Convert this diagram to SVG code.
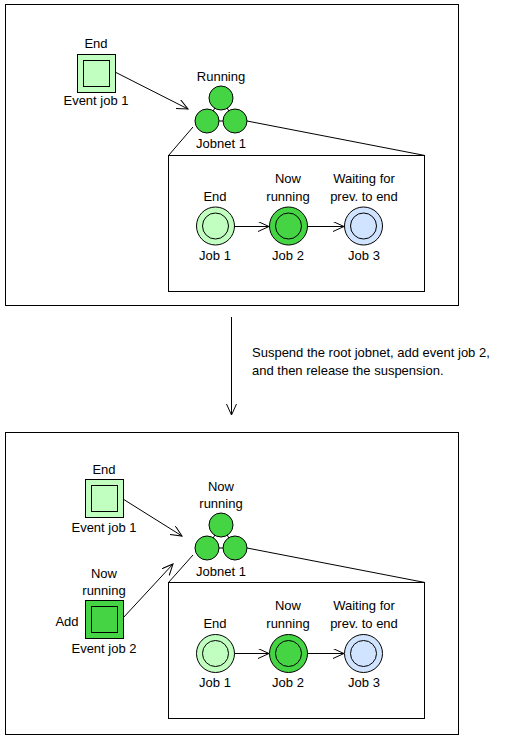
<svg xmlns="http://www.w3.org/2000/svg" width="517" height="738" viewBox="0 0 517 738">
<defs>
<marker id="ah" markerUnits="userSpaceOnUse" markerWidth="14" markerHeight="12" refX="11" refY="5" orient="auto">
<path d="M0,0 L11,5 L0,10" fill="none" stroke="#000" stroke-width="1"/>
</marker>
</defs>
<style>
text{font-family:"Liberation Sans",Arial,sans-serif;font-size:13px;fill:#000;text-anchor:middle}
.frame{fill:#fff;stroke:#000;stroke-width:1}
.ln{stroke:#000;stroke-width:1;fill:none}
.arr{stroke:#000;stroke-width:1;fill:none;marker-end:url(#ah)}
.lg{fill:#c0ffc0;stroke:#000}
.dg{fill:#44d444;stroke:#000}
.lb{fill:#d0e4ff;stroke:#000}
</style>
<rect width="517" height="738" fill="#fff"/>
<rect class="frame" x="5.5" y="4.5" width="453" height="301"/>
<rect class="frame" x="5.5" y="432.5" width="453" height="302"/>

<g id="detail-top">
<rect class="frame" x="168.5" y="155.5" width="256" height="136"/>
</g>
<g id="detail-bottom">
<rect class="frame" x="168.5" y="582.5" width="256" height="136"/>
</g>

<g id="connectors">
<line class="arr" x1="115" y1="72" x2="188" y2="109"/>
<line class="ln" x1="193" y1="127" x2="168.5" y2="155.5"/>
<line class="ln" x1="247" y1="121" x2="425" y2="155.5"/>
<line class="arr" x1="234" y1="226.5" x2="269" y2="226.5"/>
<line class="arr" x1="307" y1="226.5" x2="344" y2="226.5"/>
<line class="arr" x1="231.5" y1="317" x2="231.5" y2="415"/>
<line class="arr" x1="123" y1="499" x2="182" y2="536"/>
<line class="arr" x1="123" y1="618" x2="173" y2="564"/>
<line class="ln" x1="193" y1="555" x2="168.5" y2="582.5"/>
<line class="ln" x1="247" y1="548" x2="425" y2="582.5"/>
<line class="arr" x1="234" y1="653.5" x2="269" y2="653.5"/>
<line class="arr" x1="307" y1="653.5" x2="344" y2="653.5"/>
</g>

<g id="eventjob1-top">
<text x="96" y="48">End</text>
<rect class="lg" x="77.5" y="54.5" width="38" height="38"/>
<rect class="lg" x="83.5" y="60.5" width="26" height="26"/>
<text x="96" y="105">Event job 1</text>
</g>

<g id="jobnet1-top">
<text x="221" y="81">Running</text>
<line class="ln" x1="221" y1="98" x2="207" y2="121"/>
<line class="ln" x1="221" y1="98" x2="235" y2="121"/>
<line class="ln" x1="207" y1="121" x2="235" y2="121"/>
<circle class="dg" cx="221" cy="98" r="12"/>
<circle class="dg" cx="207" cy="121" r="12"/>
<circle class="dg" cx="235" cy="121" r="12"/>
<text x="221" y="148">Jobnet 1</text>
</g>

<g id="job1-top">
<text x="215" y="201">End</text>
<circle class="lg" cx="215.5" cy="226" r="19"/>
<circle class="lg" cx="215.5" cy="226" r="13"/>
<text x="215" y="260">Job 1</text>
</g>
<g id="job2-top">
<text x="288" y="183">Now</text>
<text x="288" y="201">running</text>
<circle class="dg" cx="288.5" cy="226" r="19"/>
<circle class="dg" cx="288.5" cy="226" r="13"/>
<text x="288" y="260">Job 2</text>
</g>
<g id="job3-top">
<text x="364" y="183">Waiting for</text>
<text x="364" y="201">prev. to end</text>
<circle class="lb" cx="363.5" cy="226" r="19"/>
<circle class="lb" cx="363.5" cy="226" r="13"/>
<text x="364" y="260">Job 3</text>
</g>

<g id="note">
<text x="252" y="357" style="text-anchor:start">Suspend the root jobnet, add event job 2,</text>
<text x="252" y="375" style="text-anchor:start">and then release the suspension.</text>
</g>

<g id="eventjob1-bottom">
<text x="104" y="474">End</text>
<rect class="lg" x="85.5" y="479.5" width="38" height="38"/>
<rect class="lg" x="91.5" y="485.5" width="26" height="26"/>
<text x="104" y="532">Event job 1</text>
</g>

<g id="eventjob2-bottom">
<text x="104" y="578">Now</text>
<text x="104" y="595">running</text>
<text x="67" y="626">Add</text>
<rect class="dg" x="85.5" y="600.5" width="38" height="38"/>
<rect class="dg" x="91.5" y="606.5" width="26" height="26"/>
<text x="104" y="653">Event job 2</text>
</g>

<g id="jobnet1-bottom">
<text x="221" y="491">Now</text>
<text x="221" y="508">running</text>
<line class="ln" x1="221" y1="525" x2="207" y2="548"/>
<line class="ln" x1="221" y1="525" x2="235" y2="548"/>
<line class="ln" x1="207" y1="548" x2="235" y2="548"/>
<circle class="dg" cx="221" cy="525" r="12"/>
<circle class="dg" cx="207" cy="548" r="12"/>
<circle class="dg" cx="235" cy="548" r="12"/>
<text x="221" y="576">Jobnet 1</text>
</g>

<g id="job1-bottom">
<text x="215" y="628">End</text>
<circle class="lg" cx="215.5" cy="653.5" r="19"/>
<circle class="lg" cx="215.5" cy="653.5" r="13"/>
<text x="215" y="687">Job 1</text>
</g>
<g id="job2-bottom">
<text x="288" y="610">Now</text>
<text x="288" y="628">running</text>
<circle class="dg" cx="288.5" cy="653.5" r="19"/>
<circle class="dg" cx="288.5" cy="653.5" r="13"/>
<text x="288" y="687">Job 2</text>
</g>
<g id="job3-bottom">
<text x="364" y="610">Waiting for</text>
<text x="364" y="628">prev. to end</text>
<circle class="lb" cx="363.5" cy="653.5" r="19"/>
<circle class="lb" cx="363.5" cy="653.5" r="13"/>
<text x="364" y="687">Job 3</text>
</g>
</svg>
